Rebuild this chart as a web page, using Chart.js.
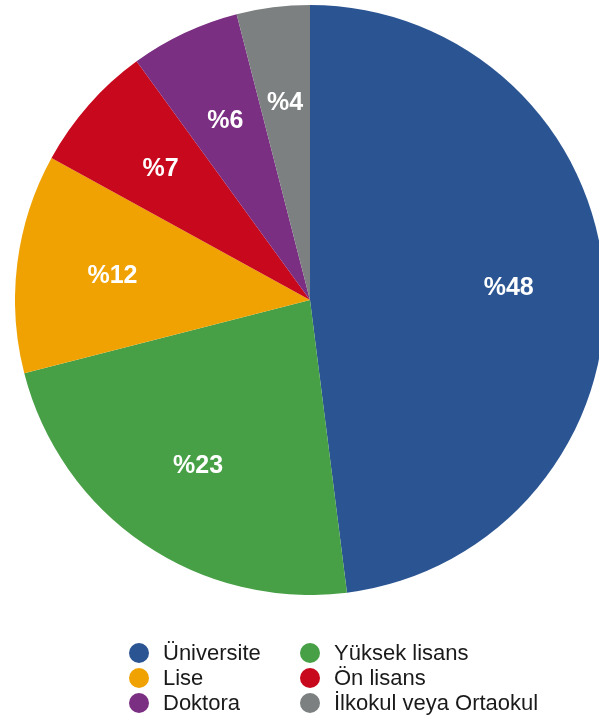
<!DOCTYPE html>
<html>
<head>
<meta charset="utf-8">
<script src="https://cdn.jsdelivr.net/npm/chart.js@4"></script>
<style>
  html, body { margin: 0; padding: 0; width: 599px; height: 720px; overflow: hidden; background: #ffffff; }
  #wrap { position: absolute; left: 15px; top: 5px; width: 590px; height: 590px; }
  #legend { position: absolute; left: 0; top: 0; width: 599px; height: 720px; pointer-events: none;
            font-family: "Liberation Sans", Arial, Helvetica, sans-serif; font-size: 22px; color: #1a1a1a; }
  .item { position: absolute; height: 25px; line-height: 25px; white-space: nowrap; }
  .dot { position: absolute; width: 20px; height: 20px; border-radius: 50%; top: 2.5px; }
  .txt { position: absolute; top: 0; }
</style>
</head>
<body>
<div id="wrap"><canvas id="c" width="590" height="590"></canvas></div>
<div id="legend"></div>
<script>
const categories = ["Üniversite", "Yüksek lisans", "Lise", "Ön lisans", "Doktora", "İlkokul veya Ortaokul"];
const values = [48, 23, 12, 7, 6, 4];
const colors = ["#2b5592", "#47a046", "#f0a202", "#c8091d", "#7b2f83", "#7c8080"];
const valueLabels = ["%48", "%23", "%12", "%7", "%6", "%4"];

const sliceLabels = {
  id: "sliceLabels",
  afterDatasetsDraw(chart) {
    const ctx = chart.ctx;
    const meta = chart.getDatasetMeta(0);
    ctx.save();
    ctx.fillStyle = "#ffffff";
    ctx.font = "bold 25px 'Liberation Sans', Arial, sans-serif";
    ctx.textAlign = "center";
    ctx.textBaseline = "middle";
    meta.data.forEach((arc, i) => {
      const p = arc.getProps(["x", "y", "startAngle", "endAngle", "outerRadius"], true);
      const mid = (p.startAngle + p.endAngle) / 2;
      const d = p.outerRadius * 0.675;
      ctx.fillText(valueLabels[i], p.x + Math.cos(mid) * d, p.y + Math.sin(mid) * d + 1);
    });
    ctx.restore();
  }
};

new Chart(document.getElementById("c"), {
  type: "pie",
  data: {
    labels: categories,
    datasets: [{ data: values, backgroundColor: colors, borderWidth: 0, hoverOffset: 0 }]
  },
  options: {
    responsive: false,
    animation: false,
    layout: { padding: 0 },
    plugins: { legend: { display: false }, tooltip: { enabled: false } }
  },
  plugins: [sliceLabels]
});

// HTML legend, two columns
const legend = document.getElementById("legend");
const colX = [129, 300];
const rowY = [640, 665, 690];
categories.forEach((name, i) => {
  const col = i % 2, row = Math.floor(i / 2);
  const item = document.createElement("div");
  item.className = "item";
  item.style.left = colX[col] + "px";
  item.style.top = rowY[row] + "px";
  const dot = document.createElement("div");
  dot.className = "dot";
  dot.style.left = "0px";
  dot.style.background = colors[i];
  const txt = document.createElement("div");
  txt.className = "txt";
  txt.style.left = "34px";
  txt.textContent = name;
  item.appendChild(dot);
  item.appendChild(txt);
  legend.appendChild(item);
});
</script>
</body>
</html>
